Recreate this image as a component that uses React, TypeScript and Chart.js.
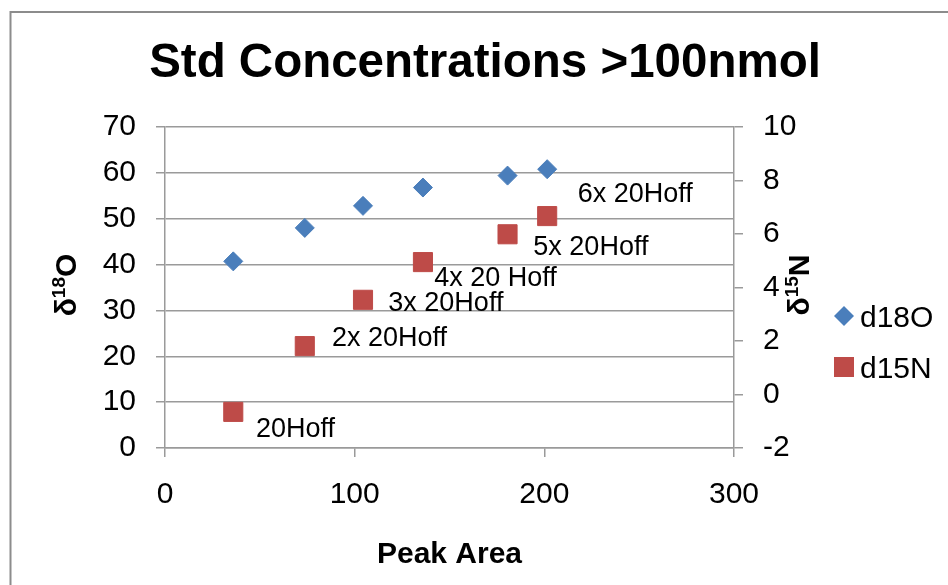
import React, { useEffect, useRef } from 'react';
import { Chart, registerables } from 'chart.js';

Chart.register(...registerables);

// ---- data ----
const peakArea = [36.0, 73.7, 104.4, 136.0, 180.6, 201.5];
const d18O = [40.7, 48.0, 52.8, 56.8, 59.4, 60.8];
const d15N = [-0.65, 1.81, 3.54, 4.95, 5.99, 6.67];
const pointLabels = ['20Hoff', '2x 20Hoff', '3x 20Hoff', '4x 20 Hoff', '5x 20Hoff', '6x 20Hoff'];
const seriesNames = ['d18O', 'd15N'];
const chartTitle = 'Std Concentrations >100nmol';
const xTitle = 'Peak Area';

// ---- styles ----
const labelDx = [22.7, 27.2, 25.3, 11.3, 25.8, 30.5];
const labelDy = [15, -9.5, 1.3, 14, 11.3, -23.4];
const FONT = "'Liberation Sans', Arial, sans-serif";
const BLUE = '#4A7EBB';
const RED = '#BE4B48';
const GRID = '#9a9a9a';

function drawRotTitle(ctx: CanvasRenderingContext2D, baseX: number, centerY: number, parts: { text: string; size: number; rise: number }[]) {
  ctx.save();
  ctx.translate(baseX, centerY);
  ctx.rotate(-Math.PI / 2);
  ctx.textBaseline = 'alphabetic';
  ctx.textAlign = 'left';
  ctx.fillStyle = '#000';
  const widths = parts.map((p) => {
    ctx.font = `bold ${p.size}px ${FONT}`;
    return ctx.measureText(p.text).width;
  });
  const total = widths.reduce((a, b) => a + b, 0);
  let x = -total / 2;
  parts.forEach((p, i) => {
    ctx.font = `bold ${p.size}px ${FONT}`;
    ctx.fillText(p.text, x, -p.rise);
    x += widths[i];
  });
  ctx.restore();
}

const overlay = {
  id: 'overlay',
  beforeDraw(chart: any) {
    const ctx = chart.ctx as CanvasRenderingContext2D;
    ctx.save();
    ctx.fillStyle = '#fff';
    ctx.fillRect(0, 0, chart.width, chart.height);
    ctx.restore();
  },
  afterDraw(chart: any) {
    const ctx = chart.ctx as CanvasRenderingContext2D;
    const xs = chart.scales.x;
    const y2 = chart.scales.y2;
    ctx.save();
    // outer border
    ctx.strokeStyle = '#8c8c8c';
    ctx.lineWidth = 2;
    ctx.beginPath();
    ctx.moveTo(10.5, chart.height);
    ctx.lineTo(10.5, 12);
    ctx.lineTo(chart.width, 12);
    ctx.stroke();

    ctx.fillStyle = '#000';
    // title
    ctx.font = `bold 47.5px ${FONT}`;
    ctx.textAlign = 'center';
    ctx.textBaseline = 'alphabetic';
    ctx.fillText(chartTitle, 485, 77);
    // x title
    ctx.font = `bold 30px ${FONT}`;
    ctx.fillText(xTitle, (chart.chartArea.left + chart.chartArea.right) / 2, 563);

    // y titles
    drawRotTitle(ctx, 76, 285, [
      { text: 'δ', size: 30, rise: 0 },
      { text: '18', size: 19, rise: 11 },
      { text: 'O', size: 30, rise: 0 },
    ]);
    drawRotTitle(ctx, 809, 285, [
      { text: 'δ', size: 30, rise: 0 },
      { text: '15', size: 19, rise: 11 },
      { text: 'N', size: 30, rise: 0 },
    ]);

    // data labels
    ctx.textAlign = 'left';
    ctx.font = `27px ${FONT}`;
    pointLabels.forEach((t, i) => {
      const px = xs.getPixelForValue(peakArea[i]);
      const py = y2.getPixelForValue(d15N[i]);
      ctx.fillText(t, px + labelDx[i], py + labelDy[i] + 9.7);
    });

    // legend
    const lx = 844;
    const ly1 = 316;
    const ly2 = 367;
    ctx.fillStyle = BLUE;
    ctx.beginPath();
    ctx.moveTo(lx, ly1 - 10);
    ctx.lineTo(lx + 10, ly1);
    ctx.lineTo(lx, ly1 + 10);
    ctx.lineTo(lx - 10, ly1);
    ctx.closePath();
    ctx.fill();
    ctx.fillStyle = RED;
    ctx.fillRect(lx - 10, ly2 - 10, 20, 20);
    ctx.fillStyle = '#000';
    ctx.font = `30px ${FONT}`;
    ctx.fillText(seriesNames[0], 860, ly1 + 10.7);
    ctx.fillText(seriesNames[1], 860, ly2 + 10.7);
    ctx.restore();
  },
};

export default function App() {
  const ref = useRef<HTMLCanvasElement | null>(null);
  useEffect(() => {
    if (!ref.current) return;
    const tickFont = { family: FONT, size: 30 };
    const chart = new Chart(ref.current, {
      type: 'scatter',
      data: {
        datasets: [
          {
            label: seriesNames[0],
            data: peakArea.map((x, i) => ({ x, y: d18O[i] })),
            yAxisID: 'y',
            pointStyle: 'rectRot',
            pointRadius: 9.5,
            backgroundColor: BLUE,
            borderColor: BLUE,
            borderWidth: 1,
            showLine: false,
          },
          {
            label: seriesNames[1],
            data: peakArea.map((x, i) => ({ x, y: d15N[i] })),
            yAxisID: 'y2',
            pointStyle: 'rect',
            pointRadius: 13.5,
            backgroundColor: RED,
            borderColor: RED,
            borderWidth: 1,
            showLine: false,
          },
        ],
      },
      options: {
        responsive: false,
        animation: false,
        devicePixelRatio: 1,
        layout: { padding: { top: 127, left: 0, right: 0, bottom: 0 } },
        plugins: {
          legend: { display: false },
          title: { display: false },
          tooltip: { enabled: false },
        },
        scales: {
          x: {
            type: 'linear',
            min: 0,
            max: 300,
            ticks: { stepSize: 100, padding: 20, font: tickFont, color: '#000', maxRotation: 0 },
            grid: { drawOnChartArea: false, drawTicks: true, tickLength: 9, color: GRID, lineWidth: 1.5 },
            border: { display: true, color: GRID, width: 1.5 },
            afterFit: (s: any) => { s.height = 137; },
          },
          y: {
            type: 'linear',
            position: 'left',
            min: 0,
            max: 70,
            ticks: { stepSize: 10, padding: 20, font: tickFont, color: '#000' },
            grid: { drawOnChartArea: true, drawTicks: true, tickLength: 9, color: GRID, lineWidth: 1.5 },
            border: { display: true, color: GRID, width: 1.5 },
            afterFit: (s: any) => { s.width = 165; },
          },
          y2: {
            type: 'linear',
            position: 'right',
            min: -2,
            max: 10,
            ticks: { stepSize: 2, padding: 20, font: tickFont, color: '#000' },
            grid: { drawOnChartArea: false, drawTicks: true, tickLength: 9, color: GRID, lineWidth: 1.5 },
            border: { display: true, color: GRID, width: 1.5 },
            afterFit: (s: any) => { s.width = 214; },
          },
        },
      } as any,
      plugins: [overlay],
    });
    return () => chart.destroy();
  }, []);
  return (
    <div style={{ position: 'fixed', left: 0, top: 0, width: 948, height: 585, background: '#fff' }}>
      <canvas ref={ref} width={948} height={585} style={{ display: 'block' }} />
    </div>
  );
}
